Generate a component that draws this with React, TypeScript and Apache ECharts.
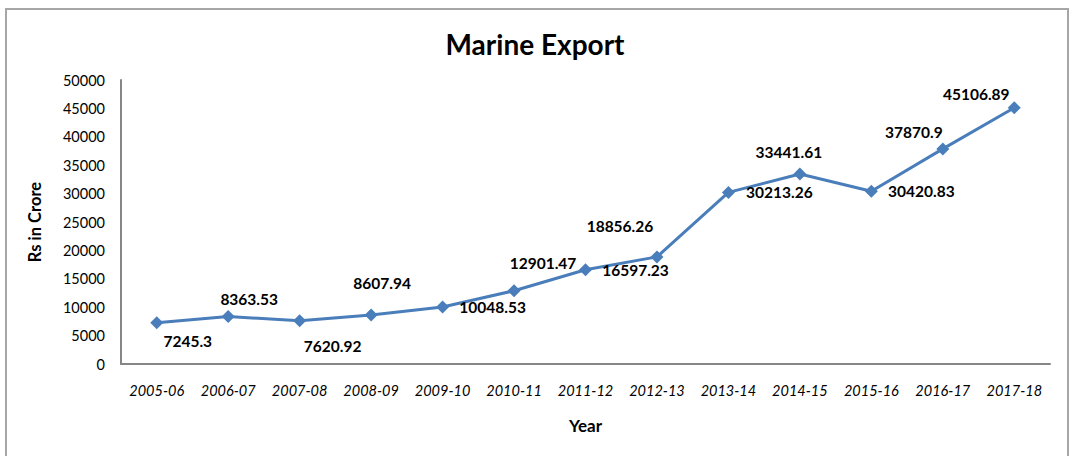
import React, { useEffect, useRef } from "react";
import * as echarts from "echarts";

const years = ["2005-06","2006-07","2007-08","2008-09","2009-10","2010-11","2011-12","2012-13","2013-14","2014-15","2015-16","2016-17","2017-18"];
const exportValues = [7245.3, 8363.53, 7620.92, 8607.94, 10048.53, 12901.47, 16597.23, 18856.26, 30213.26, 33441.61, 30420.83, 37870.9, 45106.89];
const labelTexts = ["7245.3","8363.53","7620.92","8607.94","10048.53","12901.47","16597.23","18856.26","30213.26","33441.61","30420.83","37870.9","45106.89"];

// label placement offsets (style only)
const labelOffsets: [number, number][] = [
  [31, 18], [21, -17], [33, 25], [11, -32], [50, 0], [29, -28], [50, 0],
  [-37, -31], [51, 0], [-11, -22], [50, 0], [-29, -17], [-38, -14],
];

const FONT = "Lato, 'Open Sans', sans-serif";

export default function App() {
  const ref = useRef<HTMLDivElement>(null);
  useEffect(() => {
    if (!ref.current) return;
    const chart = echarts.init(ref.current, undefined, { renderer: "svg" });
    chart.setOption({
      animation: false,
      backgroundColor: "#ffffff",
      textStyle: { fontFamily: FONT },
      title: {
        text: "Marine Export",
        left: "center",
        top: 25,
        textStyle: { fontFamily: FONT, fontSize: 28, fontWeight: "bold", color: "#000" },
      },
      graphic: [
        {
          type: "rect",
          shape: { x: 6, y: 9, width: 1062, height: 460 },
          style: { fill: "none", stroke: "#a6a6a6", lineWidth: 2 },
          silent: true,
        },
      ],
      grid: { left: 121, right: 20, top: 80, bottom: 92 },
      xAxis: {
        type: "category",
        data: years,
        boundaryGap: true,
        name: "Year",
        nameLocation: "middle",
        nameGap: 53,
        nameTextStyle: { fontFamily: FONT, fontSize: 17, fontWeight: "bold", color: "#000" },
        axisLine: { lineStyle: { color: "#868686", width: 2 } },
        axisTick: { show: false },
        axisLabel: { fontFamily: FONT, fontSize: 14.5, fontStyle: "italic", color: "#000", margin: 19, interval: 0 },
      },
      yAxis: {
        type: "value",
        min: 0,
        max: 50000,
        interval: 5000,
        name: "Rs in Crore",
        nameLocation: "middle",
        nameGap: 78,
        nameRotate: 90,
        nameTextStyle: { fontFamily: FONT, fontSize: 16.5, fontWeight: "bold", color: "#000" },
        axisLine: { show: true, lineStyle: { color: "#868686", width: 2 } },
        axisTick: { show: false },
        splitLine: { show: false },
        axisLabel: { fontFamily: FONT, fontSize: 14.5, color: "#000", margin: 16, formatter: (v: number) => String(v) },
      },
      series: [
        {
          type: "line",
          data: exportValues.map((v, i) => ({
            value: v,
            label: {
              show: true,
              position: "inside",
              offset: labelOffsets[i],
              formatter: () => labelTexts[i],
            },
          })),
          symbol: "diamond",
          symbolSize: 13,
          lineStyle: { color: "#4a7ebb", width: 3 },
          itemStyle: { color: "#4a7ebb" },
          label: {
            show: true,
            fontFamily: FONT,
            fontSize: 15.5,
            fontWeight: "bold",
            color: "#000",
          },
        },
      ],
    });
    return () => chart.dispose();
  }, []);
  return (
    <div
      ref={ref}
      style={{ position: "absolute", left: 0, top: 0, width: 1070, height: 456 }}
    />
  );
}
